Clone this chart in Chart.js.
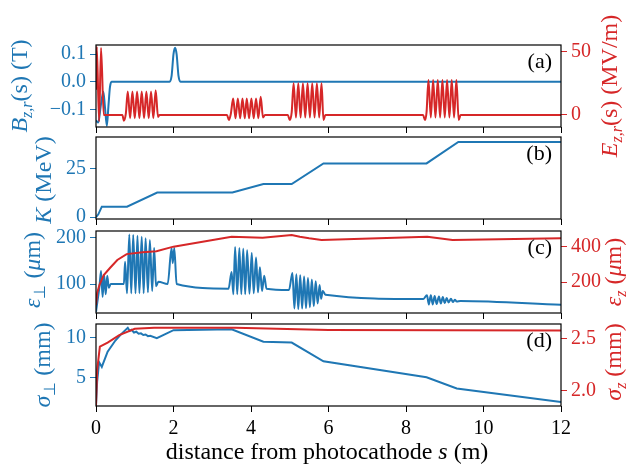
<!DOCTYPE html>
<html>
<head>
<meta charset="utf-8">
<script src="https://cdn.jsdelivr.net/npm/chart.js@4.4.1/dist/chart.umd.min.js"></script>
<style>
  html, body { margin: 0; padding: 0; background: #fff; }
  #wrap { position: relative; width: 629px; height: 464px; }
  #wrap canvas { position: absolute; left: 0; top: 0; }
</style>
</head>
<body>
<div id="wrap">
  <canvas id="pa" width="629" height="464"></canvas>
  <canvas id="pb" width="629" height="464"></canvas>
  <canvas id="pc" width="629" height="464"></canvas>
  <canvas id="pd" width="629" height="464"></canvas>
</div>
<script>
const BLUE = "#1f77b4";
const RED = "#d62728";
const FONT = "Liberation Serif";

// shared x ticks (distance s in m)
const xTicks = [0, 2, 4, 6, 8, 10, 12];

// (a) solenoid field Bz (T) and cavity field Ez (MV/m)
const bzS   = [0, 0.06, 0.12, 0.19, 0.23, 0.28, 0.32, 0.36, 0.40, 1.90, 1.95, 2.00, 2.04, 2.08, 2.13, 2.18, 12];
const bzVal = [-0.14, -0.148, -0.09, -0.036, -0.09, -0.16, -0.09, -0.02, 0, 0, 0.02, 0.10, 0.123, 0.10, 0.02, 0, 0];
const ezS = [0, 0.02, 0.08, 0.13, 0.20, 0.68, 0.72, 0.77,
  0.82, 0.88, 0.94, 1.00, 1.06, 1.12, 1.18, 1.24, 1.30, 1.36, 1.42, 1.48, 1.54, 1.60, 1.64,
  3.38, 3.43, 3.48,
  3.54, 3.60, 3.66, 3.72, 3.78, 3.84, 3.89, 3.95, 4.01, 4.07, 4.13, 4.19, 4.25, 4.31, 4.36,
  4.95, 5.00, 5.05,
  5.10, 5.16, 5.22, 5.28, 5.34, 5.40, 5.46, 5.52, 5.58, 5.64, 5.70, 5.76, 5.82, 5.87, 5.92,
  8.44, 8.49, 8.53,
  8.58, 8.64, 8.70, 8.76, 8.82, 8.88, 8.94, 9.00, 9.06, 9.12, 9.18, 9.24, 9.30, 9.36, 9.41, 12];
const ezVal = [20, 54, -5, 53, 0, 0, -4.5, 1,
  18.5, -2.5, 18.5, -2.5, 18.5, -2.5, 18.5, -2.5, 18.5, -2.5, 18.5, -2.5, 19.5, -1.5, 0,
  0, -4, 1,
  13, -2.5, 13, -2.5, 13, -2.5, 13, -2.5, 13, -2.5, 13, -2.5, 14.5, -2, 0,
  0, -4, 2,
  25, -2, 25, -2, 25, -2, 25, -2, 25, -2, 25, -2, 25, -4, 0,
  0, -4, 2,
  27.6, -2, 27.6, -2, 27.6, -2, 27.6, -2, 27.6, -2, 27.6, -2, 27.6, -4, 0, 0];

// (b) kinetic energy K (MeV)
const kS   = [0, 0.06, 0.15, 0.80, 1.58, 3.52, 4.32, 5.05, 5.87, 8.53, 9.35, 12];
const kVal = [0, 1.5, 5.4, 5.4, 12.6, 12.6, 17.0, 17.0, 27.5, 27.5, 38.5, 38.5];

// (c) transverse emittance (um) and longitudinal emittance (um)
const epsPerpS = [0, 0.05, 0.09, 0.13, 0.17, 0.21, 0.25, 0.29, 0.33, 0.38, 0.72,
  0.75, 0.80, 0.86, 0.91, 0.96, 1.02, 1.07, 1.12, 1.18, 1.23, 1.28, 1.34, 1.39, 1.45, 1.50, 1.55, 1.61,
  1.85, 1.95, 1.98, 2.02, 2.08, 3.42,
  3.50, 3.545, 3.59, 3.645, 3.70, 3.75, 3.80, 3.85, 3.90, 3.96, 4.02, 4.07, 4.13, 4.18, 4.23, 4.285, 4.34, 4.40,
  4.98, 5.07, 5.12, 5.17, 5.22, 5.27, 5.32, 5.37, 5.42, 5.47, 5.52, 5.57, 5.62, 5.67, 5.72, 5.77, 5.81, 5.85, 5.92,
  8.45, 8.54, 8.59, 8.64, 8.69, 8.74, 8.79, 8.85, 8.90, 8.95, 9.00, 9.05, 9.10, 9.16, 9.21, 9.26, 9.31, 9.40, 12];
const epsPerpVal = [40, 70, 95, 128, 72, 120, 78, 118, 92, 100, 100,
  148, 80, 207, 80, 206, 80, 204, 80, 202, 80, 199, 82, 195, 85, 178, 95, 105,
  100, 178, 145, 178, 100, 90,
  126, 78, 180, 78, 178, 78, 176, 78, 173, 79, 167, 80, 157, 82, 136, 85, 118, 90,
  87, 124, 47, 121, 46, 119, 47, 116, 48, 113, 50, 110, 52, 106, 58, 98, 68, 85, 77,
  67.5, 76, 56, 76, 56, 74, 57, 73, 58, 72, 59, 70, 60, 68, 61, 66, 62, 63.5, 55];
const epsZS   = [0, 0.03, 0.09, 0.20, 0.36, 0.55, 0.79, 1.20, 1.56, 2.00, 3.50, 4.30, 5.05, 5.26, 5.50, 5.82, 8.55, 9.20, 12];
const epsZVal = [72, 140, 185, 240, 280, 325, 358, 368, 374, 400, 456, 450, 466, 456, 447, 438, 456, 438, 447];

// (d) transverse and longitudinal bunch size (mm)
const sigPerpS   = [0, 0.03, 0.08, 0.15, 0.30, 0.50, 0.65, 0.82, 0.87, 0.92, 0.98, 1.04, 1.10, 1.16, 1.22, 1.28, 1.34, 1.40, 1.57, 2.00, 3.50, 4.32, 5.05, 5.87, 8.53, 9.31, 12];
const sigPerpVal = [1.5, 4.5, 6.9, 6.3, 8.2, 9.6, 10.4, 11.2, 10.8, 10.95, 10.6, 10.7, 10.45, 10.5, 10.3, 10.35, 10.15, 10.2, 9.9, 10.9, 11.0, 9.45, 9.35, 7.0, 5.0, 3.6, 1.9];
const sigZS   = [0, 0.03, 0.10, 0.30, 0.60, 1.00, 1.50, 3.60, 6.00, 12];
const sigZVal = [1.86, 2.2, 2.42, 2.46, 2.53, 2.59, 2.60, 2.60, 2.58, 2.575];

const pts = (xs, ys) => xs.map((x, i) => ({ x: x, y: ys[i] }));
const minus = s => s.replace("-", "\u2212");

// rich text: parts = [{t, it, sub}], drawn centred at (cx, cy), optionally rotated
function drawRich(ctx, parts, cx, cy, color, rotated) {
  const size = 24, subSize = 16;
  const fontOf = p => (p.it ? "italic " : "") + (p.sub ? subSize : size) + "px '" + FONT + "'";
  let w = 0;
  parts.forEach(p => { ctx.font = fontOf(p); p.w = ctx.measureText(p.t).width; w += p.w; });
  ctx.save();
  ctx.fillStyle = color;
  ctx.textBaseline = "alphabetic";
  ctx.textAlign = "left";
  if (rotated) {
    ctx.translate(cx + 6, cy);
    ctx.rotate(-Math.PI / 2);
  } else {
    ctx.translate(cx, cy);
  }
  let x = -w / 2;
  parts.forEach(p => {
    ctx.font = fontOf(p);
    ctx.fillText(p.t, x, p.sub ? 5 : 0);
    x += p.w;
  });
  ctx.restore();
}

function decor(tag, titles) {
  return {
    id: "decor",
    afterDraw(chart) {
      const ctx = chart.ctx, a = chart.chartArea;
      ctx.save();
      ctx.strokeStyle = "#000";
      ctx.lineWidth = 1.2;
      ctx.strokeRect(a.left, a.top, a.right - a.left, a.bottom - a.top);
      ctx.fillStyle = "#000";
      ctx.font = "22px '" + FONT + "'";
      ctx.textAlign = "right";
      ctx.textBaseline = "middle";
      ctx.fillText(tag, a.right - 9, a.top + 17);
      ctx.restore();
      titles.forEach(t => drawRich(ctx, t.parts, t.x, t.y, t.color, t.rot));
    }
  };
}

function yAxis(pos, min, max, ticks, fmt, color) {
  return {
    type: "linear", position: pos, min: min, max: max,
    afterBuildTicks: ax => { ax.ticks = ticks.map(v => ({ value: v })); },
    afterFit: s => { s.width = pos === "left" ? 96 : 68; },
    ticks: { color: color, font: { family: FONT, size: 20 }, padding: 4, callback: v => minus(fmt(v)) },
    grid: { display: true, drawOnChartArea: false, drawTicks: true, tickLength: 6, tickColor: color },
    border: { display: false }
  };
}

function makePanel(id, top, bottom, sets, yl, yr, showX, tag, titles) {
  const scales = {
    x: {
      type: "linear", position: "bottom", min: 0, max: 12,
      afterBuildTicks: ax => { ax.ticks = xTicks.map(v => ({ value: v })); },
      afterFit: s => { s.height = 30; },
      ticks: { display: showX, color: "#000", font: { family: FONT, size: 20 }, padding: 5, callback: v => String(v) },
      grid: { display: true, drawOnChartArea: false, drawTicks: true, tickLength: 6, tickColor: "#000" },
      border: { display: false }
    },
    yL: yl
  };
  if (yr) scales.yR = yr;
  return new Chart(document.getElementById(id), {
    type: "line",
    data: {
      datasets: sets.map(s => ({
        data: s.data, yAxisID: s.axis, borderColor: s.color, borderWidth: 2,
        pointRadius: 0, tension: 0, cubicInterpolationMode: s.smooth ? "monotone" : "default",
        clip: 0, fill: false
      }))
    },
    options: {
      responsive: false, animation: false, devicePixelRatio: 1,
      layout: { padding: { top: top, bottom: 464 - bottom - 30, left: 0, right: yr ? 0 : 68 } },
      plugins: { legend: { display: false }, tooltip: { enabled: false } },
      scales: scales
    },
    plugins: [decor(tag, titles)]
  });
}

makePanel("pa", 45, 127,
  [{ data: pts(ezS, ezVal), axis: "yR", color: RED, smooth: true }, { data: pts(bzS, bzVal), axis: "yL", color: BLUE, smooth: true }],
  yAxis("left", -0.164, 0.133, [-0.1, 0, 0.1], v => v.toFixed(1), BLUE),
  yAxis("right", -9.5, 55.3, [0, 50], v => String(v), RED),
  false, "(a)",
  [
    { parts: [{ t: "B", it: true }, { t: "z,r", it: true, sub: true }, { t: "(s) (T)" }], x: 21, y: 86, color: BLUE, rot: true },
    { parts: [{ t: "E", it: true }, { t: "z,r", it: true, sub: true }, { t: "(s) (MV/m)" }], x: 611, y: 86, color: RED, rot: true }
  ]);

makePanel("pb", 137, 219,
  [{ data: pts(kS, kVal), axis: "yL", color: BLUE }],
  yAxis("left", -0.9, 41, [0, 25], v => String(v), BLUE),
  null, false, "(b)",
  [{ parts: [{ t: "K", it: true }, { t: " (MeV)" }], x: 45, y: 180, color: BLUE, rot: true }]);

makePanel("pc", 231, 313,
  [{ data: pts(epsZS, epsZVal), axis: "yR", color: RED }, { data: pts(epsPerpS, epsPerpVal), axis: "yL", color: BLUE, smooth: true }],
  yAxis("left", 37.4, 214.5, [100, 200], v => String(v), BLUE),
  yAxis("right", 27, 488, [200, 400], v => String(v), RED),
  false, "(c)",
  [
    { parts: [{ t: "\u03b5", it: true }, { t: "\u22a5", sub: true }, { t: " (" }, { t: "\u03bc", it: true }, { t: "m)" }], x: 34, y: 270, color: BLUE, rot: true },
    { parts: [{ t: "\u03b5", it: true }, { t: "z", it: true, sub: true }, { t: " (" }, { t: "\u03bc", it: true }, { t: "m)" }], x: 615, y: 272, color: RED, rot: true }
  ]);

makePanel("pd", 324, 406,
  [{ data: pts(sigZS, sigZVal), axis: "yR", color: RED }, { data: pts(sigPerpS, sigPerpVal), axis: "yL", color: BLUE }],
  yAxis("left", 1.41, 11.67, [5, 10], v => String(v), BLUE),
  yAxis("right", 1.857, 2.636, [2.0, 2.5], v => v.toFixed(1), RED),
  true, "(d)",
  [
    { parts: [{ t: "\u03c3", it: true }, { t: "\u22a5", sub: true }, { t: " (mm)" }], x: 44, y: 365, color: BLUE, rot: true },
    { parts: [{ t: "\u03c3", it: true }, { t: "z", it: true, sub: true }, { t: " (mm)" }], x: 615, y: 362, color: RED, rot: true },
    { parts: [{ t: "distance from photocathode " }, { t: "s", it: true }, { t: " (m)" }], x: 327, y: 459, color: "#000", rot: false }
  ]);
</script>
</body>
</html>
